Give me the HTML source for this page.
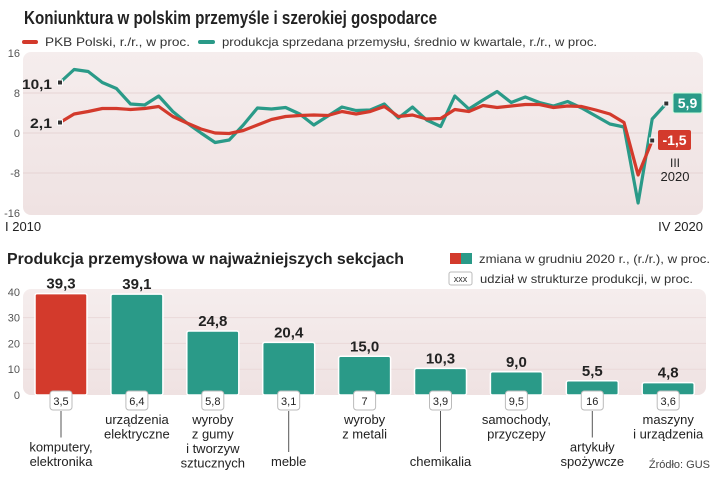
<!DOCTYPE html>
<html><head><meta charset="utf-8"><style>
html,body{margin:0;padding:0;background:#fff;width:720px;height:486px;overflow:hidden}
svg{display:block;font-family:"Liberation Sans",sans-serif}
</style></head><body>
<svg id="c" width="720" height="486" viewBox="0 0 720 486">
<defs>
<linearGradient id="bg" x1="0" y1="0" x2="0" y2="1"><stop offset="0" stop-color="#f5eded"/><stop offset="1" stop-color="#efe2e2"/></linearGradient>
</defs>
<text x="24" y="24" font-size="18" font-weight="bold" fill="#222" textLength="413" lengthAdjust="spacingAndGlyphs">Koniunktura w polskim przemyśle i szerokiej gospodarce</text>
<g>
<line x1="24" y1="42" x2="36" y2="42" stroke="#d33a2c" stroke-width="4" stroke-linecap="round"/>
<text x="45" y="46" font-size="12" fill="#333" textLength="145" lengthAdjust="spacingAndGlyphs">PKB Polski, r./r., w proc.</text>
<line x1="200" y1="42" x2="213" y2="42" stroke="#2a9a88" stroke-width="4" stroke-linecap="round"/>
<text x="222" y="46" font-size="12" fill="#333" textLength="375" lengthAdjust="spacingAndGlyphs">produkcja sprzedana przemysłu, średnio w kwartale,  r./r., w proc.</text>
</g>
<rect x="23" y="52" width="680" height="163" rx="8" fill="url(#bg)"/>
<g id="topAxis"></g>
<g id="topLines"></g>
<text x="5" y="231" font-size="13" fill="#222">I 2010</text>
<text x="703" y="231" font-size="13" fill="#222" text-anchor="end">IV 2020</text>
<text x="52" y="89" font-size="14" font-weight="bold" fill="#222" text-anchor="end" textLength="30" lengthAdjust="spacingAndGlyphs">10,1</text>
<text x="52" y="128" font-size="14" font-weight="bold" fill="#222" text-anchor="end" textLength="22" lengthAdjust="spacingAndGlyphs">2,1</text>
<rect x="673" y="93" width="29" height="20" rx="2" fill="#2a9a88" stroke="#cfd" stroke-width="1"/>
<text x="687.5" y="108" font-size="14" font-weight="bold" fill="#fff" text-anchor="middle">5,9</text>
<rect x="658" y="130" width="33" height="20" rx="2" fill="#d33a2c"/>
<text x="674.5" y="145" font-size="14" font-weight="bold" fill="#fff" text-anchor="middle">-1,5</text>
<text x="675" y="167" font-size="12" fill="#222" text-anchor="middle">III</text>
<text x="675" y="181" font-size="13" fill="#222" text-anchor="middle">2020</text>

<text x="7" y="264" font-size="16" font-weight="bold" fill="#222" textLength="397" lengthAdjust="spacingAndGlyphs">Produkcja przemysłowa w najważniejszych sekcjach</text>
<g>
<rect x="450" y="253" width="11" height="11" fill="#d33a2c"/>
<rect x="461" y="253" width="11" height="11" fill="#2a9a88"/>
<text x="479" y="263" font-size="12" fill="#333" textLength="231" lengthAdjust="spacingAndGlyphs">zmiana w grudniu 2020 r., (r./r.), w proc.</text>
<rect x="449" y="272" width="23" height="13" rx="2" fill="#fff" stroke="#bbb"/>
<text x="460.5" y="282" font-size="9" fill="#333" text-anchor="middle">xxx</text>
<text x="480" y="283" font-size="12" fill="#333" textLength="213" lengthAdjust="spacingAndGlyphs">udział w strukturze produkcji, w proc.</text>
</g>
<rect x="23" y="289" width="683" height="106" rx="8" fill="url(#bg)"/>
<g id="botAxis"></g>
<g id="bars"></g>
<text x="710" y="468" font-size="11" fill="#444" text-anchor="end">Źródło: GUS</text>
</svg>
<script>
const pkbValues=[2.1,3.8,4.3,4.9,4.9,4.7,4.9,5.3,3.3,2.0,0.8,0.0,-0.1,0.5,1.6,2.7,3.3,3.5,3.6,3.5,4.3,3.8,4.3,5.3,3.3,3.6,2.8,2.9,4.7,4.3,5.5,5.1,5.4,5.7,5.7,5.1,5.4,5.3,4.6,3.8,2.1,-8.4,-1.5];
const prodValues=[10.1,12.7,12.3,10.1,8.9,5.8,5.6,7.4,4.3,2.0,0.0,-1.9,-1.4,1.6,5.0,4.8,5.1,3.8,1.6,3.4,5.2,4.5,4.6,5.8,3.0,5.2,2.6,1.3,7.4,4.8,6.6,8.3,6.1,7.2,6.1,5.4,6.3,5.0,3.4,1.8,1.2,-14.0,2.8,5.9];
const yTicksTop=[16,8,0,-8,-16];
const categories=[["komputery,","elektronika"],["urządzenia","elektryczne"],["wyroby","z gumy","i tworzyw","sztucznych"],["meble"],["wyroby","z metali"],["chemikalia"],["samochody,","przyczepy"],["artykuły","spożywcze"],["maszyny","i urządzenia"]];
const changeValues=[39.3,39.1,24.8,20.4,15.0,10.3,9.0,5.5,4.8];
const changeLabels=["39,3","39,1","24,8","20,4","15,0","10,3","9,0","5,5","4,8"];
const shareLabels=["3,5","6,4","5,8","3,1","7","3,9","9,5","16","3,6"];
const labelLow=[true,false,false,true,false,true,false,true,false];
const yTicksBot=[0,10,20,30,40];

const NS="http://www.w3.org/2000/svg";
function mk(tag,attrs,parent,txt){const e=document.createElementNS(NS,tag);for(const k in attrs)e.setAttribute(k,attrs[k]);if(txt!==undefined)e.textContent=txt;parent.appendChild(e);return e;}
const xT=i=>60+i*14.1;
const yT=v=>133-v*5;
const topAxis=document.getElementById('topAxis');
yTicksTop.forEach(t=>{
  if(t!==16&&t!==-16){const l=mk('line',{x1:23,x2:703,y1:yT(t),y2:yT(t),stroke:'#e6d4d4','stroke-width':1},topAxis);
  
  }
  const tx=mk('text',{x:20,y:yT(t)+4,'font-size':11,fill:'#555','text-anchor':'end'},topAxis,String(t));
  
  
});
const topLines=document.getElementById('topLines');
function line(vals,color,name){
  const p=mk('polyline',{points:vals.map((v,i)=>xT(i)+','+yT(v)).join(' '),fill:'none',stroke:color,'stroke-width':3.2,'stroke-linejoin':'round'},topLines);
  
  
}
line(prodValues,'#2a9a88','line-produkcja');
line(pkbValues,'#d33a2c','line-pkb');
[[0,prodValues[0]],[0,pkbValues[0]],[prodValues.length-1,prodValues[prodValues.length-1]],[pkbValues.length-1,pkbValues[pkbValues.length-1]]].forEach((d,k)=>{
  const m=mk('rect',{x:xT(d[0])-2.5,y:yT(d[1])-2.5,width:5,height:5,fill:'#333',stroke:'#fff','stroke-width':1},topLines);
  
  
});

const yB=v=>395-v*2.58;
const xB=i=>61+i*75.9;
const botAxis=document.getElementById('botAxis');
yTicksBot.forEach(t=>{
  if(t>0&&t<40){const l=mk('line',{x1:23,x2:706,y1:yB(t),y2:yB(t),stroke:'#ead9d9'},botAxis);
  
  }
  const tx=mk('text',{x:20,y:yB(t)+4,'font-size':11,fill:'#555','text-anchor':'end'},botAxis,String(t));
  
  
});
const bars=document.getElementById('bars');
changeValues.forEach((v,i)=>{
  const cx=xB(i);
  const r=mk('rect',{x:cx-26,y:yB(v),width:52,height:395-yB(v),rx:2,fill:i===0?'#d33a2c':'#2a9a88',stroke:'#fff','stroke-width':1.5},bars);
  
  
  const vt=mk('text',{x:cx,y:yB(v)-5,'font-size':15,'font-weight':'bold',fill:'#222','text-anchor':'middle'},bars,changeLabels[i]);
  
  
  const b=mk('rect',{x:cx-11,y:391,width:22,height:19,rx:3,fill:'#fff',stroke:'#bbb'},bars);
  
  
  const st=mk('text',{x:cx,y:405,'font-size':11,fill:'#222','text-anchor':'middle'},bars,shareLabels[i]);
  
  
  const lines=categories[i];
  const lh=14.5;
  const startY=labelLow[i]?(466-(lines.length-1)*lh):(424);
  if(labelLow[i]){
    const s=mk('line',{x1:cx,x2:cx,y1:411,y2:startY-14,stroke:'#555'},bars);
    
    
  }
  const ct=mk('text',{x:cx,y:startY,'font-size':13,fill:'#222','text-anchor':'middle'},bars);
  
  
  lines.forEach((s,k)=>{mk('tspan',{x:cx,dy:k===0?0:lh},ct,s);});
});
</script>
</body></html>
